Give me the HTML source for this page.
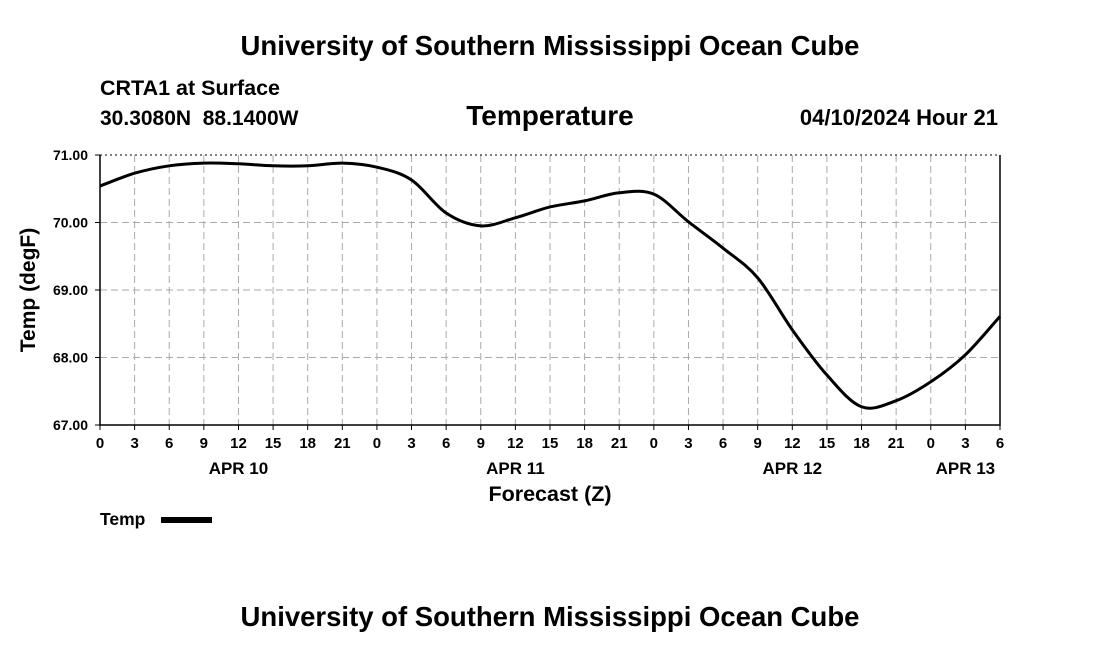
<!DOCTYPE html>
<html><head><meta charset="utf-8"><style>
body{margin:0;background:#fff;}
svg text{font-family:"Liberation Sans",Arial,sans-serif;font-weight:bold;fill:#000;white-space:pre;}
</style></head><body>
<svg width="1100" height="650" viewBox="0 0 1100 650">
<text x="550" y="55" font-size="27.5" text-anchor="middle">University of Southern Mississippi Ocean Cube</text>
<text x="100" y="95" font-size="21.5">CRTA1 at Surface</text>
<text x="100" y="125" font-size="21" xml:space="preserve">30.3080N  88.1400W</text>
<text x="550" y="125" font-size="28" text-anchor="middle">Temperature</text>
<text x="998" y="125" font-size="22" text-anchor="end">04/10/2024 Hour 21</text>
<g id="grid"></g>
<g id="axes"></g>
<path id="line" fill="none" stroke="#000" stroke-width="3"/>
<text transform="translate(35,290) rotate(-90)" font-size="21" text-anchor="middle">Temp (degF)</text>
<text x="550" y="501" font-size="21.5" text-anchor="middle">Forecast (Z)</text>
<text x="100" y="525" font-size="17.5">Temp</text>
<rect x="161" y="517" width="51" height="6" fill="#000"/>
<text x="550" y="626" font-size="27.5" text-anchor="middle">University of Southern Mississippi Ocean Cube</text>
</svg>
<script>
const hours=[0,3,6,9,12,15,18,21,24,27,30,33,36,39,42,45,48,51,54,57,60,63,66,69,72,75,78];
const temps=[70.54,70.73,70.84,70.88,70.87,70.84,70.84,70.88,70.82,70.63,70.14,69.95,70.07,70.23,70.32,70.44,70.42,70.01,69.62,69.18,68.41,67.74,67.27,67.36,67.64,68.04,68.61];
const yTicks=[67,68,69,70,71];
const xTickLabels=["0","3","6","9","12","15","18","21","0","3","6","9","12","15","18","21","0","3","6","9","12","15","18","21","0","3","6"];
const dayLabels=["APR 10","APR 11","APR 12","APR 13"];
const dayHours=[12,36,60,75];
const X0=100,X1=1000,Y0=425,Y1=155;
const xs=h=>X0+(h-0)/78*(X1-X0);
const ys=t=>Y0-(t-67)/4*(Y0-Y1);
const NS="http://www.w3.org/2000/svg";
const gridG=document.getElementById('grid'),axesG=document.getElementById('axes');
function mk(tag,attrs,parent){const e=document.createElementNS(NS,tag);for(const k in attrs)e.setAttribute(k,attrs[k]);parent.appendChild(e);return e;}
xTickLabels.forEach((l,i)=>{const x=xs(i*3);
 if(i>0&&i<xTickLabels.length-1){const g=mk('line',{x1:x,x2:x,y1:Y1,y2:Y0,stroke:'#aaa','stroke-dasharray':'7,4'},gridG);
 
 }
 const tk=mk('line',{x1:x,x2:x,y1:Y0,y2:Y0+5,stroke:'#000'},axesG);
 
 
 const t=mk('text',{x:x,y:Y0+23,'font-size':15,'text-anchor':'middle'},axesG);t.textContent=l;
 
 });
dayLabels.forEach((l,i)=>{const t=mk('text',{x:xs(dayHours[i]),y:Y0+49,'font-size':17,'text-anchor':'middle'},axesG);t.textContent=l;
 
 });
yTicks.forEach(v=>{const y=ys(v);
 if(v>67&&v<71){const g=mk('line',{x1:X0,x2:X1,y1:y,y2:y,stroke:'#aaa','stroke-dasharray':'7,4'},gridG);
 
 }
 const tk=mk('line',{x1:X0-5,x2:X0,y1:y,y2:y,stroke:'#000'},axesG);
 
 
 const t=mk('text',{x:X0-12,y:y+5,'font-size':14,'text-anchor':'end'},axesG);t.textContent=v.toFixed(2);
 
 });
const topBorder=mk('line',{x1:X0,x2:X1,y1:Y1,y2:Y1,stroke:'#000','stroke-dasharray':'2,3'},axesG);


const frame=mk('path',{d:`M${X0},${Y1}V${Y0}H${X1}V${Y1}`,fill:'none',stroke:'#000','stroke-width':1.5},axesG);


const P=hours.map((h,i)=>[xs(h),ys(temps[i])]);
let d=`M${P[0][0]},${P[0][1]}`;
for(let i=0;i<P.length-1;i++){const p0=P[i-1]||P[i],p1=P[i],p2=P[i+1],p3=P[i+2]||P[i+1];
 d+=`C${p1[0]+(p2[0]-p0[0])/6},${p1[1]+(p2[1]-p0[1])/6} ${p2[0]-(p3[0]-p1[0])/6},${p2[1]-(p3[1]-p1[1])/6} ${p2[0]},${p2[1]}`;}
document.getElementById('line').setAttribute('d',d);
</script>
</body></html>
